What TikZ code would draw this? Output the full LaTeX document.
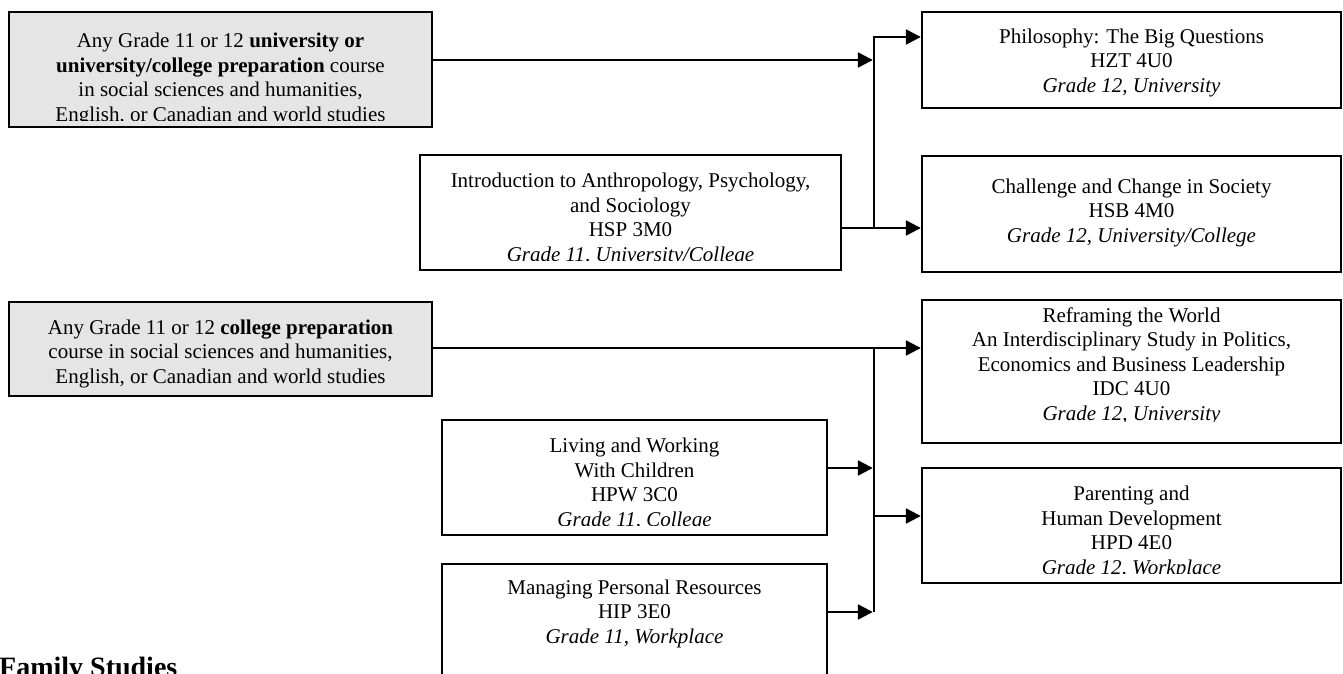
\documentclass[tikz,border=0pt]{standalone}
\usepackage{fontspec}
\setmainfont{Liberation Serif}
\usetikzlibrary{arrows.meta}
\begin{document}
\begin{tikzpicture}[x=1pt, y=-1pt,
  box/.style={draw=black, line width=2.4pt, rectangle, inner sep=0pt, outer sep=0pt, anchor=north west},
  prereq/.style={box, fill=gray!20},
  course/.style={anchor=north, align=center, inner sep=0pt, font=\fontsize{21}{24.5}\selectfont},
  link/.style={line width=2.4pt, shorten >=1.2pt, -{Triangle[length=15pt,width=15pt]}},
  wire/.style={line width=2.4pt}]

% page frame
\useasboundingbox (0,0) rectangle (1343,674);
\fill[white] (0,0) rectangle (1343,674);
\clip (0,0) rectangle (1343,674);

% boxes
\node[prereq, minimum width=423pt, minimum height=115pt] (boxA) at (9,12) {};
\node[prereq, minimum width=423pt, minimum height=94pt] (boxB) at (9,302) {};
\node[box, minimum width=421pt, minimum height=115pt] (intro) at (420,155) {};
\node[box, minimum width=419pt, minimum height=96pt] (phil) at (922,12) {};
\node[box, minimum width=419pt, minimum height=116pt] (chal) at (922,156) {};
\node[box, minimum width=419pt, minimum height=143pt] (refr) at (922,300) {};
\node[box, minimum width=419pt, minimum height=115pt] (parent) at (922,468) {};
\node[box, minimum width=385pt, minimum height=115pt] (living) at (442,420) {};
\node[box, minimum width=385pt, minimum height=136pt] (manage) at (442,564) {};

% box texts
\begin{scope}
  \clip (9,12) rectangle (432,121);
  \node[course] (boxAt) at (220.5,33) {Any Grade 11 or 12 \textbf{university or}\\
    \textbf{university/college preparation} course\\
    in social sciences and humanities,\\
    English, or Canadian and world studies};
\end{scope}
\node[course] (boxBt) at (220.5,319.5) {Any Grade 11 or 12 \textbf{college preparation}\\
  course in social sciences and humanities,\\
  English, or Canadian and world studies};
\begin{scope}
  \clip (420,155) rectangle (841,260);
  \node[course] (introt) at (630.5,173) {Introduction to Anthropology, Psychology,\\
    and Sociology\\ HSP 3M0\\ \textit{Grade 11, University/College}};
\end{scope}
\node[course] (philt) at (1131.5,28.5) {Philosophy: The Big Questions\\ HZT 4U0\\
  \textit{Grade 12, University}};
\node[course] (chalt) at (1131.5,178.5) {Challenge and Change in Society\\ HSB 4M0\\
  \textit{Grade 12, University/College}};
\begin{scope}
  \clip (922,300) rectangle (1341,421);
  \node[course] (refrt) at (1131.5,307.5) {Reframing the World\\
    An Interdisciplinary Study in Politics,\\
    Economics and Business Leadership\\ IDC 4U0\\ \textit{Grade 12, University}};
\end{scope}
\begin{scope}
  \clip (922,468) rectangle (1341,573);
  \node[course] (parentt) at (1131.5,486) {Parenting and\\ Human Development\\ HPD 4E0\\
    \textit{Grade 12, Workplace}};
\end{scope}
\begin{scope}
  \clip (442,420) rectangle (827,525);
  \node[course] (livingt) at (634.5,438) {Living and Working\\ With Children\\ HPW 3C0\\
    \textit{Grade 11, College}};
\end{scope}
\node[course] (managet) at (634.5,579.5) {Managing Personal Resources\\ HIP 3E0\\
  \textit{Grade 11, Workplace}};

% heading
\node[anchor=base west, inner sep=0pt, font=\bfseries\fontsize{28}{33}\selectfont] (title)
  at (-1,676) {Family Studies};

% junction points
\coordinate (jTop) at (874,37);
\coordinate (jA) at (874,60);
\coordinate (jIntro) at (874,228);
\coordinate (jB) at (874,348);
\coordinate (jLiv) at (874,468);
\coordinate (jPar) at (874,516);
\coordinate (jMan) at (874,612);

% upper connectors
\draw[link] (boxA.east |- jA) -- (jA);
\draw[link] (intro.east |- jIntro) -- (chal.west |- jIntro);
\draw[link] (jIntro) -- (jTop) -- (phil.west |- jTop);

% lower connectors
\draw[link] (boxB.east |- jB) -- (refr.west |- jB);
\draw[wire] (jB) -- (jMan);
\draw[link] (living.east |- jLiv) -- (jLiv);
\draw[link] (manage.east |- jMan) -- (jMan);
\draw[link] (jPar) -- (parent.west |- jPar);
\end{tikzpicture}
\end{document}
